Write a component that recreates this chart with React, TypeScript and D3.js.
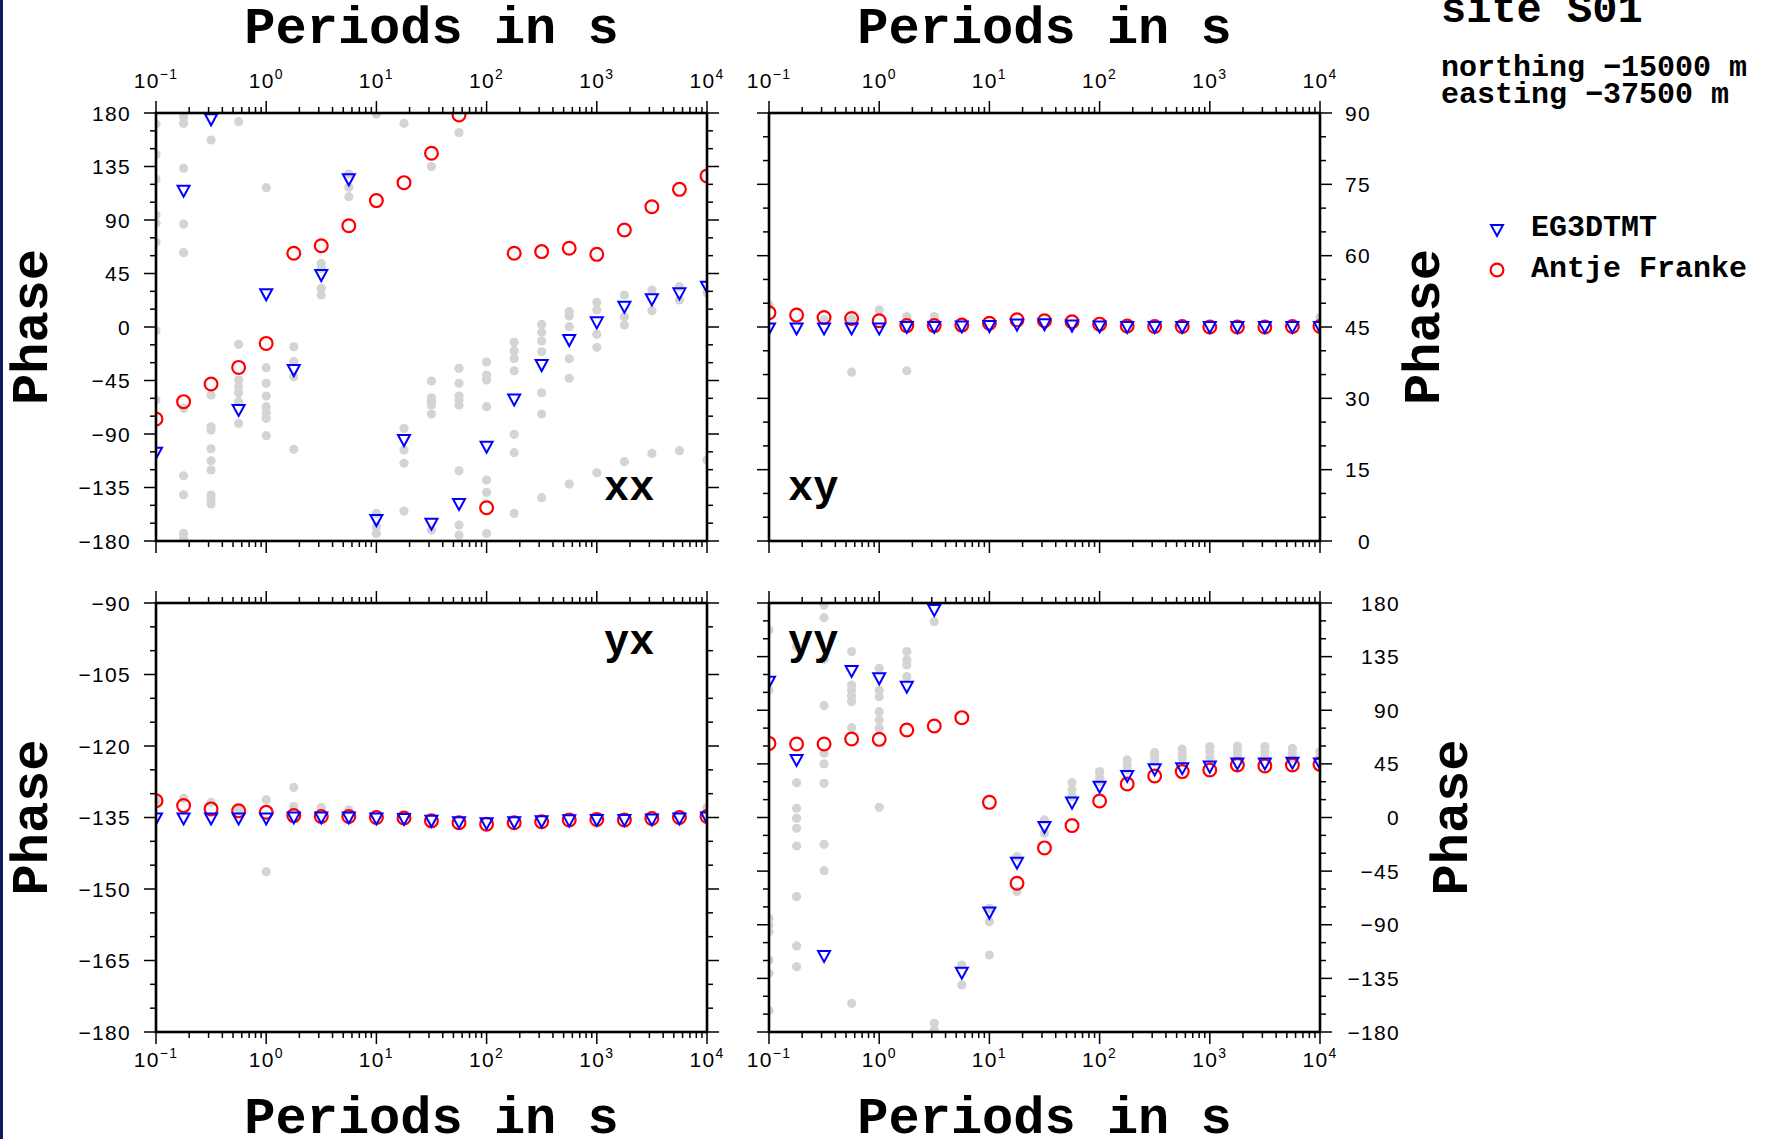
import React from 'react';
import * as d3 from 'd3';

// ---------- data ----------
const periods = [0.1, 0.178, 0.316, 0.562, 1, 1.78, 3.16, 5.62, 10, 17.8, 31.6, 56.2, 100, 178, 316, 562, 1000, 1780, 3160, 5620, 10000];
const xLabelExps = [-1, 0, 1, 2, 3, 4];
const seriesNames = ['EG3DTMT', 'Antje Franke'];
const panelNames = ['xx', 'xy', 'yx', 'yy'];

const xxEG3DTMT = [-105.7, 114.7, 174.7, -69.8, 27.5, -36.2, 43.7, 124.2, -162.4, -95.1, -165.5, -148.9, -100.7, -60.9, -32.0, -11.0, 3.9, 17.1, 23.3, 28.3, 33.9];
const xxFranke = [-77.4, -62.8, -48.0, -34.0, -13.8, 62.0, 68.4, 85.2, 106.3, 121.4, 146.1, 178.3, -152.0, 62.0, 63.4, 66.2, 61.1, 81.6, 101.2, 115.8, 127.0];
const xxGray = [
  [170.7, 145.2, 124.5, 94.2, 87.2, 71.2, -3.1, -61.4],
  [176.9, 171.3, 133.5, 86.6, 62.5, -68.4, -125.1, -141.1, -173.6, -177.8],
  [157.3, -57.2, -83.9, -86.7, -102.4, -112.5, -120.3, -141.3, -145.5, -148.9],
  [172.7, -14.6, -44.6, -50.2, -55.3, -62.8, -81.1],
  [117.2, -34.2, -47.4, -58.1, -67.0, -72.1, -76.8, -91.4],
  [-16.6, -29.2, -41.8, -102.9],
  [53.5, 49.3, 32.5, 26.9],
  [128.7, 117.5, 109.6],
  [179.2, -156.8, -168.0, -173.6],
  [171.3, -85.3, -103.5, -114.7, -154.8],
  [134.9, -45.4, -59.5, -62.8, -65.6, -73.2, -170.8],
  [163.5, -34.8, -47.4, -58.1, -61.4, -65.6, -120.9, -166.6, -175.0],
  [-29.5, -40.4, -44.6, -67.0, -128.7, -139.1, -173.6],
  [-12.9, -19.9, -26.4, -36.8, -90.3, -105.7, -156.8],
  [2.2, -4.5, -11.8, -20.8, -55.3, -73.2, -143.6],
  [12.9, 9.2, 0.3, -26.7, -43.2, -132.1],
  [20.7, 14.3, -6.2, -17.1, -122.6],
  [26.9, 8.7, 1.7, -113.3],
  [31.1, 13.7, -106.3],
  [33.9, 22.7, -104.0],
  [28.9, -111.9],
];

const xyEG3DTMT = [44.7, 44.7, 44.7, 44.7, 44.7, 45.0, 45.0, 45.1, 45.2, 45.5, 45.6, 45.3, 45.1, 45.0, 45.0, 45.0, 45.0, 45.0, 45.0, 45.0, 45.0];
const xyFranke = [48.0, 47.5, 47.0, 46.8, 46.3, 45.3, 45.3, 45.4, 45.8, 46.5, 46.3, 46.1, 45.6, 45.2, 45.1, 45.1, 45.0, 45.0, 45.0, 45.1, 45.1];
const xyGray = [
  [49.6], [], [46.5], [35.5, 46.7], [48.6], [35.8, 47.2], [47.2], [], [], [], [], [], [], [], [], [], [], [], [], [], [47.0],
];

const yxEG3DTMT = [-135.2, -135.2, -135.2, -135.2, -135.2, -135.0, -135.0, -135.0, -135.2, -135.3, -135.7, -136.0, -136.2, -136.0, -135.8, -135.6, -135.5, -135.5, -135.4, -135.2, -135.0];
const yxFranke = [-131.5, -132.5, -133.2, -133.6, -133.9, -134.6, -134.8, -134.8, -135.0, -135.1, -135.7, -136.1, -136.4, -136.1, -135.9, -135.5, -135.4, -135.5, -135.2, -135.0, -134.8];
const yxGray = [
  [-131.5], [-131.0], [-131.8], [-133.4], [-131.3, -146.4], [-128.7, -132.7], [-132.9], [-133.4], [], [], [], [], [], [], [], [], [], [], [], [], [-132.9],
];

const yyEG3DTMT = [114.0, 48.3, -116.2, 123.0, 116.8, 109.8, 174.1, -130.2, -79.8, -37.9, -8.0, 12.5, 25.9, 34.8, 40.4, 41.3, 42.7, 45.4, 45.4, 46.0, 45.4];
const yyFranke = [62.2, 61.7, 61.7, 65.9, 65.6, 73.4, 76.8, 83.8, 12.7, -55.2, -25.5, -6.8, 13.9, 28.1, 34.8, 38.5, 39.9, 44.0, 43.3, 44.0, 44.6];
const yyGray = [
  [157.3, 107.0, -84.6, -90.2, -95.8, -119.6, -130.7, -162.1],
  [143.4, 29.2, 7.7, -0.7, -9.1, -23.9, -66.4, -107.8, -125.2],
  [178.3, 167.7, 132.7, 93.9, 53.9, 45.0, 28.7, -22.5, -44.6],
  [139.2, 111.2, 107.0, 102.0, 97.2, 75.4, -155.9],
  [125.2, 107.0, 101.4, 88.8, 81.8, 74.8, 8.5],
  [139.2, 132.2, 128.0, 118.2],
  [164.3, -172.7, -178.3],
  [-123.8, -140.5],
  [-76.2, -87.4, -115.4],
  [-32.8, -62.2],
  [-2.0, -13.3],
  [29.2, 23.1, 17.5],
  [38.5, 34.3, 30.0],
  [48.3, 44.2, 40.0],
  [54.4, 51.0, 46.8],
  [57.5, 53.9, 49.7],
  [59.5, 55.3, 51.0],
  [60.0, 55.3, 51.0],
  [59.5, 55.3, 51.0],
  [58.0, 53.9, 49.7],
  [55.3, 51.0],
];

// ---------- styling ----------
const W = 1765;
const H = 1139;
const MONO = '"Liberation Mono", "DejaVu Sans Mono", monospace';
const SANS = '"Liberation Sans", Arial, sans-serif';
const RED = '#ff0000';
const BLUE = '#0000ff';
const GRAY = '#d4d4d4';

type PanelDef = {
  id: string;
  label: string;
  left: number;
  top: number;
  width: number;
  height: number;
  yDomain: [number, number];
  yMajor: number;
  yMinor: number;
  xLabelsTop: boolean;
  yLabelX: number;
  phaseX: number;
  labelX: number;
  labelY: number;
  model: number[];
  franke: number[];
  gray: number[][];
};

const panels: PanelDef[] = [
  { id: 'p0', label: panelNames[0], left: 156, top: 113, width: 551, height: 428, yDomain: [-180, 180], yMajor: 45, yMinor: 15, xLabelsTop: true, yLabelX: 131, phaseX: 47, labelX: 604, labelY: 500, model: xxEG3DTMT, franke: xxFranke, gray: xxGray },
  { id: 'p1', label: panelNames[1], left: 769, top: 113, width: 551, height: 428, yDomain: [0, 90], yMajor: 15, yMinor: 5, xLabelsTop: true, yLabelX: 1371, phaseX: 1439, labelX: 788, labelY: 500, model: xyEG3DTMT, franke: xyFranke, gray: xyGray },
  { id: 'p2', label: panelNames[2], left: 156, top: 603, width: 551, height: 429, yDomain: [-180, -90], yMajor: 15, yMinor: 5, xLabelsTop: false, yLabelX: 131, phaseX: 47, labelX: 604, labelY: 654, model: yxEG3DTMT, franke: yxFranke, gray: yxGray },
  { id: 'p3', label: panelNames[3], left: 769, top: 603, width: 551, height: 429, yDomain: [-180, 180], yMajor: 45, yMinor: 15, xLabelsTop: false, yLabelX: 1400, phaseX: 1467, labelX: 788, labelY: 654, model: yyEG3DTMT, franke: yyFranke, gray: yyGray },
];

const fmt = (v: number) => (v < 0 ? '\u2212' + Math.abs(v) : String(v));
const triPath = 'M-6,-5L6,-5L0,6Z';

function Panel({ p }: { p: PanelDef }) {
  const right = p.left + p.width;
  const bottom = p.top + p.height;
  const x = d3.scaleLog().domain([0.1, 10000]).range([p.left, right]);
  const y = d3.scaleLinear().domain(p.yDomain).range([bottom, p.top]);
  const xTicks = x.ticks();
  const yTicks = d3.range(p.yDomain[0], p.yDomain[1] + 0.001, p.yMinor);
  const isMajorX = (v: number) => Math.abs(Math.log10(v) - Math.round(Math.log10(v))) < 1e-6;
  const isMajorY = (v: number) => Math.abs(v % p.yMajor) < 1e-6;
  const MAJ = 12;
  const MIN = 6;
  const centerY = (p.top + bottom) / 2;
  const centerX = (p.left + right) / 2;

  return (
    <g>
      <defs>
        <clipPath id={`clip-${p.id}`}>
          <rect x={p.left} y={p.top} width={p.width} height={p.height} />
        </clipPath>
      </defs>
      <g clipPath={`url(#clip-${p.id})`}>
        {p.gray.map((vals, i) =>
          vals.map((v, j) => (
            <circle key={`g${i}-${j}`} cx={x(periods[i])} cy={y(v)} r={4.6} fill={GRAY} />
          ))
        )}
        {p.franke.map((v, i) => (
          <circle key={`r${i}`} cx={x(periods[i])} cy={y(v)} r={6.4} fill="none" stroke={RED} strokeWidth={2.2} />
        ))}
        {p.model.map((v, i) => (
          <path key={`b${i}`} d={triPath} transform={`translate(${x(periods[i])},${y(v)})`} fill="none" stroke={BLUE} strokeWidth={2} strokeLinejoin="miter" />
        ))}
      </g>
      {xTicks.map((t, i) => {
        const len = isMajorX(t) ? MAJ : MIN;
        const xx = x(t);
        return (
          <g key={`xt${i}`} stroke="#000" strokeWidth={1.5}>
            <line x1={xx} x2={xx} y1={p.top} y2={p.top - len} />
            <line x1={xx} x2={xx} y1={bottom} y2={bottom + len} />
          </g>
        );
      })}
      {yTicks.map((t, i) => {
        const len = isMajorY(t) ? MAJ : MIN;
        const yy = y(t);
        return (
          <g key={`yt${i}`} stroke="#000" strokeWidth={1.5}>
            <line x1={p.left} x2={p.left - len} y1={yy} y2={yy} />
            <line x1={right} x2={right + len} y1={yy} y2={yy} />
          </g>
        );
      })}
      <rect x={p.left} y={p.top} width={p.width} height={p.height} fill="none" stroke="#000" strokeWidth={2.6} />
      {xLabelExps.map((e) => (
        <text key={`xl${e}`} x={x(Math.pow(10, e))} y={p.xLabelsTop ? 88 : 1067} textAnchor="middle" fontFamily={SANS} fontSize={21} letterSpacing={1.3} fill="#000">
          10<tspan fontSize={14} dy={-9}>{fmt(e)}</tspan>
        </text>
      ))}
      {yTicks.filter(isMajorY).map((t) => (
        <text key={`yl${t}`} x={p.yLabelX} y={y(t)} dy="0.36em" textAnchor="end" fontFamily={SANS} fontSize={21} letterSpacing={1.3} fill="#000">
          {fmt(t)}
        </text>
      ))}
      <text transform={`translate(${p.phaseX},${centerY}) rotate(-90)`} textAnchor="middle" fontFamily={MONO} fontWeight="bold" fontSize={52} fill="#000">
        Phase
      </text>
      <text x={centerX} y={p.xLabelsTop ? 43 : 1133} textAnchor="middle" fontFamily={MONO} fontWeight="bold" fontSize={52} fill="#000">
        Periods in s
      </text>
      <text x={p.labelX} y={p.labelY} fontFamily={MONO} fontWeight="bold" fontSize={42} fill="#000">
        {p.label}
      </text>
    </g>
  );
}

export default function App() {
  return (
    <svg width={W} height={H} viewBox={`0 0 ${W} ${H}`} style={{ position: 'absolute', left: 0, top: 0, background: '#fff' }}>
      <rect x={0} y={0} width={W} height={H} fill="#fff" />
      <rect x={0} y={0} width={3} height={H} fill="#101a5a" />
      {panels.map((p) => (
        <Panel key={p.id} p={p} />
      ))}
      <text x={1441} y={22} fontFamily={MONO} fontWeight="bold" fontSize={42} fill="#000">site S01</text>
      <text x={1441} y={76} fontFamily={MONO} fontWeight="bold" fontSize={30} fill="#000">northing {'\u2212'}15000 m</text>
      <text x={1441} y={103} fontFamily={MONO} fontWeight="bold" fontSize={30} fill="#000">easting {'\u2212'}37500 m</text>
      <path d={triPath} transform="translate(1497,230)" fill="none" stroke={BLUE} strokeWidth={2} />
      <text x={1531} y={236} fontFamily={MONO} fontWeight="bold" fontSize={30} fill="#000">{seriesNames[0]}</text>
      <circle cx={1497} cy={270} r={6.4} fill="none" stroke={RED} strokeWidth={2.2} />
      <text x={1531} y={277} fontFamily={MONO} fontWeight="bold" fontSize={30} fill="#000">{seriesNames[1]}</text>
    </svg>
  );
}
